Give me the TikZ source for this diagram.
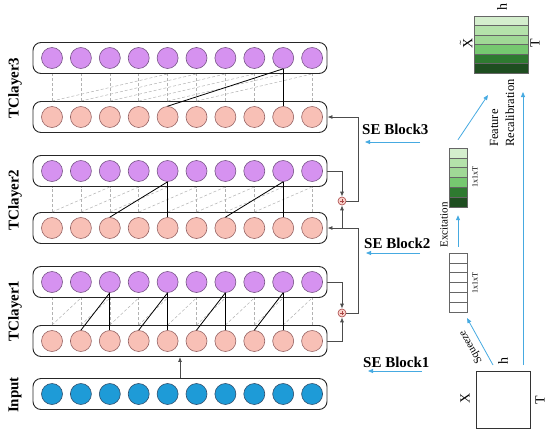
\documentclass[tikz,border=0pt]{standalone}
\usepackage{fontspec}
\setmainfont{Liberation Serif}
\usetikzlibrary{arrows.meta,calc}
\definecolor{purp}{RGB}{214,146,240}
\definecolor{purpd}{RGB}{120,85,135}
\definecolor{pinkc}{RGB}{248,192,182}
\definecolor{pinkd}{RGB}{150,100,100}
\definecolor{bluec}{RGB}{30,155,215}
\definecolor{blued}{RGB}{50,80,110}
\definecolor{arrowblue}{RGB}{70,170,225}
\definecolor{gA}{RGB}{212,238,205}
\definecolor{gB}{RGB}{180,226,170}
\definecolor{gC}{RGB}{160,216,150}
\definecolor{gD}{RGB}{118,200,112}
\definecolor{gE}{RGB}{46,122,48}
\definecolor{gF}{RGB}{30,78,32}
\definecolor{oplusd}{RGB}{170,70,70}
\tikzset{
  layerbox/.style={draw=black!85, line width=0.9pt, rounded corners=8pt, minimum width=294pt, minimum height=31pt, inner sep=0pt},
  cir/.style={circle, minimum size=21pt, inner sep=0pt, line width=0.6pt},
  dsh/.style={draw=black!30, dashed, dash pattern=on 3pt off 2pt, line width=0.5pt},
  sol/.style={draw=black, line width=0.8pt},
  conn/.style={draw=black!70, line width=0.8pt, -{Latex[length=5pt,width=4pt]}},
  barrow/.style={draw=arrowblue, line width=0.8pt, -{Triangle[length=5pt,width=4pt]}},
  oplusnode/.style={circle, minimum size=8pt, inner sep=0pt, draw=oplusd, fill=pinkc!70, line width=0.6pt,
     path picture={\draw[oplusd, line width=0.6pt] ([xshift=-2pt]path picture bounding box.center) -- ([xshift=2pt]path picture bounding box.center);
                   \draw[oplusd, line width=0.6pt] ([yshift=-2pt]path picture bounding box.center) -- ([yshift=2pt]path picture bounding box.center);}},
  lab/.style={font=\fontsize{15}{18}\selectfont\bfseries, inner sep=0pt},
  selab/.style={font=\fontsize{15}{18}\selectfont\bfseries, inner sep=0pt},
  smalllab/.style={font=\fontsize{8}{9}\selectfont, inner sep=0pt},
  midlab/.style={font=\fontsize{11}{13}\selectfont, inner sep=0pt},
  biglab/.style={font=\fontsize{14}{16}\selectfont, inner sep=0pt},
  cell/.style={draw=black!60, line width=0.5pt, inner sep=0pt}
}
\begin{document}
\begin{tikzpicture}[x=1pt,y=-1pt]
\useasboundingbox (0,0) rectangle (550,432);

% ---------- layer boxes and circles ----------
\foreach \r/\y/\c/\d in {3t/58/purp/purpd, 3b/117/pinkc/pinkd, 2t/171/purp/purpd, 2b/228/pinkc/pinkd, 1t/282/purp/purpd, 1b/341/pinkc/pinkd, 0/394/bluec/blued}{
  \node[layerbox] (box\r) at (180,\y) {};
  \foreach \i in {1,...,10}{
    \node[cir, fill=\c, draw=\d] (c\r\i) at ({52+28.9*(\i-1)},\y) {};
  }
}

% ---------- dashed connections ----------
\foreach \L/\dd in {1/1, 2/2, 3/4}{
  \foreach \i in {1,...,10}{
    \draw[dsh] (c\L b\i |- box\L b.north) -- (c\L t\i |- box\L t.south);
  }
  \pgfmathtruncatemacro{\last}{10-\dd}
  \foreach \i in {1,...,\last}{
    \pgfmathtruncatemacro{\j}{\i+\dd}
    \draw[dsh] (c\L b\i |- box\L b.north) -- (c\L t\j |- box\L t.south);
  }
}

% ---------- solid dilated connections ----------
\foreach \j in {3,5,7,9}{
  \pgfmathtruncatemacro{\k}{\j-1}
  \draw[sol] (c1t\j.south) -- (c1b\j.north);
  \draw[sol] (c1t\j.south) -- (c1b\k.north);
}
\foreach \j in {5,9}{
  \pgfmathtruncatemacro{\k}{\j-2}
  \draw[sol] (c2t\j.south) -- (c2b\j.north);
  \draw[sol] (c2t\j.south) -- (c2b\k.north);
}
\draw[sol] (c3t9.south) -- (c3b9.north);
\draw[sol] (c3t9.south) -- (c3b5.north);

% ---------- left labels ----------
\node[lab, rotate=90] (l3) at (15,88) {TClayer3};
\node[lab, rotate=90] (l2) at (15,200) {TClayer2};
\node[lab, rotate=90] (l1) at (15,311) {TClayer1};
\node[lab, rotate=90] (l0) at (15,395) {Input};

% ---------- input arrow ----------
\draw[conn] (box0.north) -- (box1b.south);

% ---------- residual connections ----------
\node[oplusnode] (pa) at (342,201) {};
\node[oplusnode] (pb) at (342,313) {};
\draw[conn] (box2t.east) -| (pa.north);
\draw[conn] (pa.east) -- ++(12,0) |- (box3b.east);
\draw[conn] (box1t.east) -| (pb.north);
\draw[conn] (pb.east) -- ++(12,0) |- (box2b.east);
\draw[conn] (pa |- box2b.east) -- (pa.south);
\draw[conn] (box1b.east) -| (pb.south);

% ---------- SE block labels ----------
\node[selab, anchor=west] (se3) at (362,129) {SE Block3};
\coordinate (se3a) at (420,142); \coordinate (se3b) at (365,142);
\draw[barrow] (se3a) -- (se3b);
\node[selab, anchor=west] (se2) at (364,243) {SE Block2};
\coordinate (se2a) at (420,253); \coordinate (se2b) at (366,253);
\draw[barrow] (se2a) -- (se2b);
\node[selab, anchor=west] (se1) at (363,362) {SE Block1};
\coordinate (se1a) at (422,371); \coordinate (se1b) at (368,371);
\draw[barrow] (se1a) -- (se1b);

% ---------- X input tensor ----------
\node[draw=black!80, line width=0.8pt, minimum width=54pt, minimum height=57pt, inner sep=0pt] (xbox) at (503,399.5) {};
\node[biglab, rotate=90] (xlab) at (465,398) {X};
\node[biglab, rotate=90] (tlab) at (540,400) {T};
\node[biglab, rotate=90] (hlab) at (503,361) {h};

% ---------- white stack (squeeze output) ----------
\foreach \k in {1,...,6}{
  \node[cell, fill=white, minimum width=18pt, minimum height=9.83pt] (ws\k) at (458,{253+9.83*(\k-0.5)}) {};
}
\node[smalllab, rotate=90] (wl) at (475,283) {1x1xT};

% ---------- green stack (excitation output) ----------
\foreach \k/\cc in {1/gA,2/gB,3/gC,4/gD,5/gE,6/gF}{
  \node[cell, fill=\cc, minimum width=18pt, minimum height=9.83pt] (gs\k) at (458,{148+9.83*(\k-0.5)}) {};
}
\node[smalllab, rotate=90] (gl) at (475,177) {1x1xT};

% ---------- recalibrated tensor ----------
\foreach \k/\cc in {1/gA,2/gB,3/gC,4/gD,5/gE,6/gF}{
  \node[cell, fill=\cc, minimum width=54pt, minimum height=9.5pt] (xt\k) at (501,{16+9.5*(\k-0.5)}) {};
}
\node[biglab, rotate=90] (xtl) at (466,43) {$\tilde{\mathrm{X}}$};
\node[biglab, rotate=90] (ttl) at (535,43) {T};
\node[biglab, rotate=90] (htl) at (502,7) {h};

% ---------- blue arrows on the right ----------
\coordinate (sq1) at (493,365); \coordinate (sq2) at (467,318);
\draw[barrow] (sq1) -- (sq2);
\node[midlab, rotate=119] (sql) at (471,347) {Squeeze};

\draw[barrow] ([yshift=6pt]ws1.north) -- ([yshift=-8pt]gs6.south);
\node[midlab, rotate=90] (exl) at (444,225) {Excitation};

\coordinate (ga2) at (488,95);
\draw[barrow] ([yshift=8pt]gs1.north) -- (ga2);

\coordinate (fr1) at (523,365); \coordinate (fr2) at (523,92);
\draw[barrow] (fr1) -- (fr2);
\node[font=\fontsize{12.5}{16}\selectfont, inner sep=0pt, rotate=90, align=left, anchor=west] (frl) at (502,147) {Feature\\Recalibration};
\end{tikzpicture}
\end{document}
